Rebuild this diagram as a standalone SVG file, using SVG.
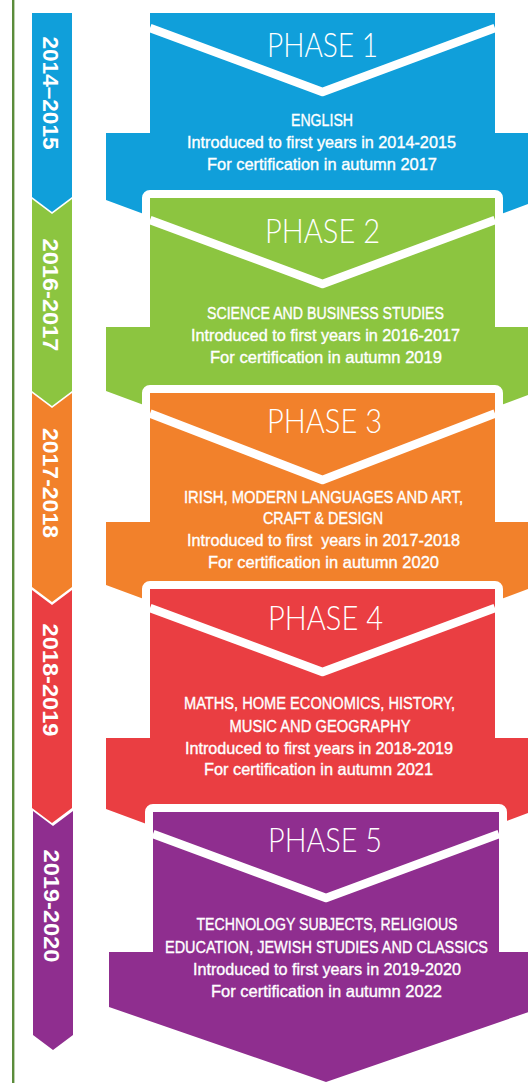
<svg xmlns="http://www.w3.org/2000/svg" width="528" height="1083" viewBox="0 0 528 1083">
<style>
.shape{stroke:#fff;stroke-width:16;stroke-linejoin:round;paint-order:stroke}
.seg{stroke:#fff;stroke-width:2;stroke-linejoin:miter;paint-order:stroke}
.v{fill:none;stroke:#fff;stroke-width:8.5;stroke-linejoin:round}
.title{font-family:Lato,"Liberation Sans",sans-serif;font-weight:300;font-size:33px;fill:#fff;text-anchor:middle}
.body{font-family:"Liberation Sans",Arial,sans-serif;font-size:16.5px;fill:#fff;stroke:#fff;stroke-width:0.35;text-anchor:middle}
.year{font-family:"Liberation Sans",Arial,sans-serif;font-weight:bold;font-size:22px;fill:#fff;text-anchor:middle}
.blue{fill:#109fda}.green{fill:#8cc540}.orange{fill:#f2812b}.red{fill:#ea3e42}.purple{fill:#8f2e8f}
</style>
<rect x="12" y="0" width="2.4" height="1083" fill="#5b8c3b"/>
<g id="timeline">
<g id="year-2014-2015"><polygon class="seg blue" points="32,13 72,13 72,197 52,212 32,197"/><text class="year" transform="translate(43,93) rotate(90)" textLength="113" lengthAdjust="spacingAndGlyphs">2014–2015</text></g>
<g id="year-2016-2017"><polygon class="seg green" points="32,199 52,214 72,199 72,391 52,406 32,391"/><text class="year" transform="translate(43,295) rotate(90)" textLength="113" lengthAdjust="spacingAndGlyphs">2016-2017</text></g>
<g id="year-2017-2018"><polygon class="seg orange" points="32,393 52,408 72,393 72,587 52,602 32,587"/><text class="year" transform="translate(43,483) rotate(90)" textLength="110" lengthAdjust="spacingAndGlyphs">2017-2018</text></g>
<g id="year-2018-2019"><polygon class="seg red" points="32,590 52,605 72,590 72,808 52,823 32,808"/><text class="year" transform="translate(43,680) rotate(90)" textLength="113" lengthAdjust="spacingAndGlyphs">2018-2019</text></g>
<g id="year-2019-2020"><polygon class="seg purple" points="33,811 53,826 73,811 73,1035 53,1050 33,1035"/><text class="year" transform="translate(44,906) rotate(90)" textLength="113" lengthAdjust="spacingAndGlyphs">2019-2020</text></g>
</g>
<g id="phase1">
<path class="blue" d="M150,13 H495 V133 H539 V200 L322.5,280 L106,200 V133 H150 Z"/>
<polyline class="v" points="150,28 322.5,92 495,28"/>
<text class="title" x="322.5" y="57" textLength="111" lengthAdjust="spacingAndGlyphs">PHASE 1</text>
<text class="body" x="322" y="126" textLength="62" lengthAdjust="spacingAndGlyphs">ENGLISH</text>
<text class="body" x="321.5" y="148" textLength="269" lengthAdjust="spacingAndGlyphs">Introduced to first years in 2014-2015</text>
<text class="body" x="322" y="170" textLength="230" lengthAdjust="spacingAndGlyphs">For certification in autumn 2017</text>
</g>
<g id="phase2">
<path class="shape green" d="M150,198 H495 V327 H539 V391 L322.5,471 L106,391 V327 H150 Z"/>
<polyline class="v" points="150,220 322.5,284 495,220"/>
<text class="title" x="322.5" y="243" textLength="115" lengthAdjust="spacingAndGlyphs">PHASE 2</text>
<text class="body" x="325.5" y="319" textLength="237" lengthAdjust="spacingAndGlyphs">SCIENCE AND BUSINESS STUDIES</text>
<text class="body" x="325.5" y="341" textLength="269" lengthAdjust="spacingAndGlyphs">Introduced to first years in 2016-2017</text>
<text class="body" x="326" y="363" textLength="232" lengthAdjust="spacingAndGlyphs">For certification in autumn 2019</text>
</g>
<g id="phase3">
<path class="shape orange" d="M150,393 H495 V522 H539 V585 L322.5,665 L106,585 V522 H150 Z"/>
<polyline class="v" points="150,413.5 322.5,480 495,413.5"/>
<text class="title" x="324.5" y="433" textLength="115" lengthAdjust="spacingAndGlyphs">PHASE 3</text>
<text class="body" x="323.5" y="503" textLength="279" lengthAdjust="spacingAndGlyphs">IRISH, MODERN LANGUAGES AND ART,</text>
<text class="body" x="323" y="524" textLength="120" lengthAdjust="spacingAndGlyphs">CRAFT &amp; DESIGN</text>
<text class="body" x="323.5" y="546" textLength="273" lengthAdjust="spacingAndGlyphs" xml:space="preserve">Introduced to first  years in 2017-2018</text>
<text class="body" x="323.5" y="568" textLength="231" lengthAdjust="spacingAndGlyphs">For certification in autumn 2020</text>
</g>
<g id="phase4">
<path class="shape red" d="M150,589 H495 V738 H539 V809 L322.5,889 L106,809 V738 H150 Z"/>
<polyline class="v" points="150,608 322.5,672 495,608"/>
<text class="title" x="325.5" y="630" textLength="115" lengthAdjust="spacingAndGlyphs">PHASE 4</text>
<text class="body" x="319.5" y="709" textLength="271" lengthAdjust="spacingAndGlyphs">MATHS, HOME ECONOMICS, HISTORY,</text>
<text class="body" x="320" y="732" textLength="181" lengthAdjust="spacingAndGlyphs">MUSIC AND GEOGRAPHY</text>
<text class="body" x="319" y="754" textLength="268" lengthAdjust="spacingAndGlyphs">Introduced to first years in 2018-2019</text>
<text class="body" x="318.5" y="775" textLength="229" lengthAdjust="spacingAndGlyphs">For certification in autumn 2021</text>
</g>
<g id="phase5">
<path class="shape purple" d="M153,812 H499 V952 H543 V1007 L326,1082 L109,1007 V952 H153 Z"/>
<polyline class="v" points="153,834 326,898 499,834"/>
<text class="title" x="325" y="852" textLength="114" lengthAdjust="spacingAndGlyphs">PHASE 5</text>
<text class="body" x="327" y="930" textLength="261" lengthAdjust="spacingAndGlyphs">TECHNOLOGY SUBJECTS, RELIGIOUS</text>
<text class="body" x="326.5" y="953" textLength="323" lengthAdjust="spacingAndGlyphs">EDUCATION, JEWISH STUDIES AND CLASSICS</text>
<text class="body" x="327" y="975" textLength="268" lengthAdjust="spacingAndGlyphs">Introduced to first years in 2019-2020</text>
<text class="body" x="326.5" y="997" textLength="231" lengthAdjust="spacingAndGlyphs">For certification in autumn 2022</text>
</g>
</svg>
